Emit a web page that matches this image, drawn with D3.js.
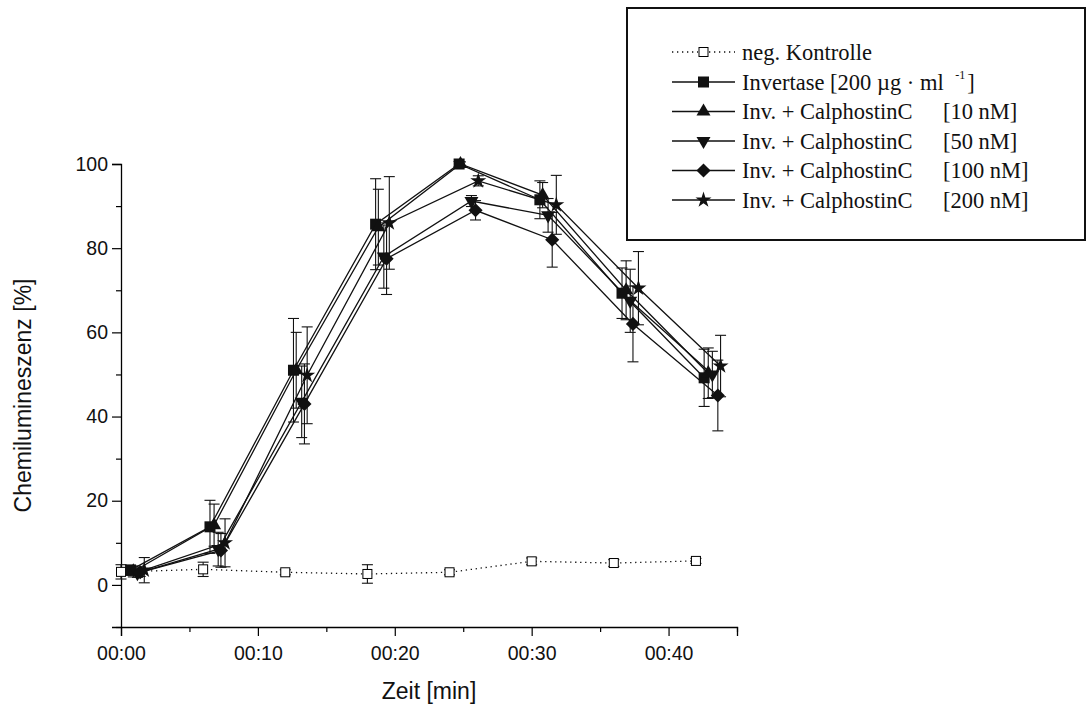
<!DOCTYPE html>
<html>
<head>
<meta charset="utf-8">
<script src="https://cdn.jsdelivr.net/npm/d3@7"></script>
<style>
  html, body { margin: 0; padding: 0; background: #fff; }
  svg { display: block; }
</style>
</head>
<body>
<svg id="chart" width="1087" height="708"></svg>
<script>
// Time points (min), mean values (%) and error bars per series
const ctrlTime = [0, 6, 12, 18, 24, 30, 36, 42];
const ctrlVal  = [3.1, 3.7, 3.0, 2.6, 3.0, 5.6, 5.2, 5.7];
const ctrlErr  = [1.7, 1.7, 0.6, 2.2, 0.6, 0.8, 0.8, 0.6];

const invTime = [0.7, 6.5, 12.6, 18.6, 24.7, 30.6, 36.6, 42.6];
const invVal  = [3.5, 13.8, 51, 85.7, 100, 91.5, 69.3, 49.2];
const invErr  = [1.2, 6.3, 12.3, 10.8, 0.6, 4.5, 6.0, 6.8];

const c10Time = [0.9, 6.8, 12.8, 18.8, 24.8, 30.8, 36.9, 42.9];
const c10Val  = [3.2, 14.2, 51, 85, 100, 92.6, 70, 50.3];
const c10Err  = [1.3, 5.0, 9.0, 9.0, 0.5, 3.0, 7.0, 6.0];

const c50Time = [1.2, 7.1, 13.2, 19.2, 25.6, 31.2, 37.2, 43.2];
const c50Val  = [2.8, 8.5, 43.5, 78, 91.2, 87.8, 67.5, 50];
const c50Err  = [1.0, 4.0, 8.5, 7.5, 1.3, 4.0, 7.5, 5.5];

const c100Time = [1.4, 7.3, 13.4, 19.4, 25.9, 31.5, 37.4, 43.6];
const c100Val  = [3.0, 8.2, 43, 77.5, 89, 82, 62, 45];
const c100Err  = [1.0, 4.0, 9.5, 8.5, 2.3, 6.5, 9.0, 8.4];

const c200Time = [1.7, 7.6, 13.6, 19.6, 26.1, 31.8, 37.8, 43.8];
const c200Val  = [3.5, 10, 49.8, 86, 96, 90.3, 70.5, 52];
const c200Err  = [3.0, 5.7, 11.5, 11, 1.2, 7.0, 8.7, 7.3];

const xMajor = [0, 10, 20, 30, 40];
const xMinor = [5, 15, 25, 35, 45];
const xTickLabels = ["00:00", "00:10", "00:20", "00:30", "00:40"];
const yMajor = [0, 20, 40, 60, 80, 100];
const yMinor = [-10, 10, 30, 50, 70, 90];

const seriesNames = [
  "neg. Kontrolle",
  "Invertase",
  "Inv. + CalphostinC",
  "Inv. + CalphostinC",
  "Inv. + CalphostinC",
  "Inv. + CalphostinC"
];
const seriesDose = ["", "", "[10 nM]", "[50 nM]", "[100 nM]", "[200 nM]"];

function build(time, val, err) {
  return time.map((t, i) => ({ t, v: val[i], e: err[i] }));
}

const series = [
  { key: "ctrl", data: build(ctrlTime, ctrlVal, ctrlErr), sym: "openSquare", dotted: true },
  { key: "inv",  data: build(invTime, invVal, invErr), sym: "square" },
  { key: "c10",  data: build(c10Time, c10Val, c10Err), sym: "triUp" },
  { key: "c50",  data: build(c50Time, c50Val, c50Err), sym: "triDown" },
  { key: "c100", data: build(c100Time, c100Val, c100Err), sym: "diamond" },
  { key: "c200", data: build(c200Time, c200Val, c200Err), sym: "star" }
];

const svg = d3.select("#chart");
svg.append("rect").attr("width", 1087).attr("height", 708).attr("fill", "#fff");

const x = d3.scaleLinear().domain([0, 45]).range([121, 737]);
const y = d3.scaleLinear().domain([-10, 100]).range([627, 164]);

const sansFont = "'Liberation Sans', Arial, sans-serif";
const serifFont = "'Liberation Serif', 'Times New Roman', serif";

// Axes: major ticks labelled, minor ticks short
const xAxis = svg.append("g").attr("transform", `translate(0,${y(-10)})`);
xAxis.call(d3.axisBottom(x).tickValues(xMajor).tickSize(9).tickPadding(10)
  .tickFormat((d, i) => xTickLabels[i]));
xAxis.append("g").call(d3.axisBottom(x).tickValues(xMinor).tickSize(5).tickFormat(""))
  .select(".domain").remove();

const yAxis = svg.append("g").attr("transform", `translate(${x(0)},0)`);
yAxis.call(d3.axisLeft(y).tickValues(yMajor).tickSize(9).tickPadding(4));
yAxis.append("g").call(d3.axisLeft(y).tickValues(yMinor).tickSize(5).tickFormat(""))
  .select(".domain").remove();

svg.selectAll(".domain").attr("stroke", "#000").attr("stroke-width", 1.3);
svg.selectAll(".tick line").attr("stroke", "#000").attr("stroke-width", 1.2);
svg.selectAll(".tick text").attr("font-family", sansFont).attr("font-size", 19.5).attr("fill", "#111");

// Axis titles
svg.append("text")
  .attr("x", (x(0) + x(45)) / 2).attr("y", 699)
  .attr("text-anchor", "middle")
  .attr("font-family", sansFont).attr("font-size", 23).attr("fill", "#111")
  .text("Zeit [min]");
svg.append("text")
  .attr("transform", `translate(31,${(y(-10) + y(100)) / 2}) rotate(-90)`)
  .attr("text-anchor", "middle")
  .attr("font-family", sansFont).attr("font-size", 23).attr("fill", "#111")
  .text("Chemilumineszenz [%]");

// Marker shapes
function drawMarker(g, sym, cx, cy) {
  let p;
  if (sym === "openSquare") {
    g.append("rect").attr("x", cx - 4.5).attr("y", cy - 4.5).attr("width", 9).attr("height", 9)
      .attr("fill", "#fff").attr("stroke", "#000").attr("stroke-width", 1);
    return;
  }
  if (sym === "square") {
    g.append("rect").attr("x", cx - 5.5).attr("y", cy - 5.5).attr("width", 11).attr("height", 11)
      .attr("fill", "#111");
    return;
  }
  if (sym === "triUp") {
    p = g.append("path").attr("d", d3.symbol(d3.symbolTriangle, 85)())
      .attr("transform", `translate(${cx},${cy})`);
  } else if (sym === "triDown") {
    p = g.append("path").attr("d", d3.symbol(d3.symbolTriangle, 85)())
      .attr("transform", `translate(${cx},${cy}) rotate(180)`);
  } else if (sym === "diamond") {
    p = g.append("path").attr("d", d3.symbol(d3.symbolSquare, 100)())
      .attr("transform", `translate(${cx},${cy}) rotate(45)`);
  } else if (sym === "star") {
    p = g.append("path").attr("d", d3.symbol(d3.symbolStar, 80)())
      .attr("transform", `translate(${cx},${cy})`);
  }
  p.attr("fill", "#111");
}

const plot = svg.append("g");
const line = d3.line().x(d => x(d.t)).y(d => y(d.v));

// Connecting lines
series.forEach(s => {
  plot.append("path").datum(s.data)
    .attr("d", line)
    .attr("fill", "none")
    .attr("stroke", "#111")
    .attr("stroke-width", s.dotted ? 1.3 : 1.3)
    .attr("stroke-dasharray", s.dotted ? "1.3,3.7" : null);
});

// Error bars with caps
const cap = 5.5;
series.forEach(s => {
  const g = plot.append("g").attr("stroke", "#111").attr("stroke-width", 1.1);
  s.data.forEach(d => {
    const cx = x(d.t), y1 = y(d.v + d.e), y2 = y(d.v - d.e);
    g.append("line").attr("x1", cx).attr("x2", cx).attr("y1", y1).attr("y2", y2);
    g.append("line").attr("x1", cx - cap).attr("x2", cx + cap).attr("y1", y1).attr("y2", y1);
    g.append("line").attr("x1", cx - cap).attr("x2", cx + cap).attr("y1", y2).attr("y2", y2);
  });
});

// Markers
series.forEach(s => {
  const g = plot.append("g");
  s.data.forEach(d => drawMarker(g, s.sym, x(d.t), y(d.v)));
});

// Legend
const legend = svg.append("g");
legend.append("rect").attr("x", 627).attr("y", 8).attr("width", 458).attr("height", 232)
  .attr("fill", "#fff").attr("stroke", "#111").attr("stroke-width", 2);

const rowY = [52, 82, 111.5, 141, 170.5, 200];
series.forEach((s, i) => {
  const cy = rowY[i];
  const g = legend.append("g");
  if (s.dotted) {
    g.append("line").attr("x1", 672).attr("x2", 698).attr("y1", cy).attr("y2", cy)
      .attr("stroke", "#111").attr("stroke-width", 1.3).attr("stroke-dasharray", "1.3,3.7");
    g.append("line").attr("x1", 709).attr("x2", 735).attr("y1", cy).attr("y2", cy)
      .attr("stroke", "#111").attr("stroke-width", 1.3).attr("stroke-dasharray", "1.3,3.7");
  } else {
    g.append("line").attr("x1", 672).attr("x2", 735).attr("y1", cy).attr("y2", cy)
      .attr("stroke", "#111").attr("stroke-width", 1.3);
  }
  drawMarker(g, s.sym, 703.5, cy);

  const txt = g.append("text").attr("x", 742).attr("y", cy + 7.5)
    .attr("font-family", serifFont).attr("font-size", 22.5).attr("fill", "#111");
  if (s.key === "inv") {
    txt.append("tspan").text("Invertase [200 µg · ml ");
    txt.append("tspan").attr("dx", 6).attr("dy", -11).attr("font-size", 12).text("-1");
    txt.append("tspan").attr("dx", 2).attr("dy", 11).text("]");
  } else {
    txt.text(seriesNames[i]);
  }
  if (seriesDose[i]) {
    g.append("text").attr("x", 943).attr("y", cy + 7.5)
      .attr("font-family", serifFont).attr("font-size", 22.5).attr("fill", "#111")
      .text(seriesDose[i]);
  }
});
</script>
</body>
</html>
